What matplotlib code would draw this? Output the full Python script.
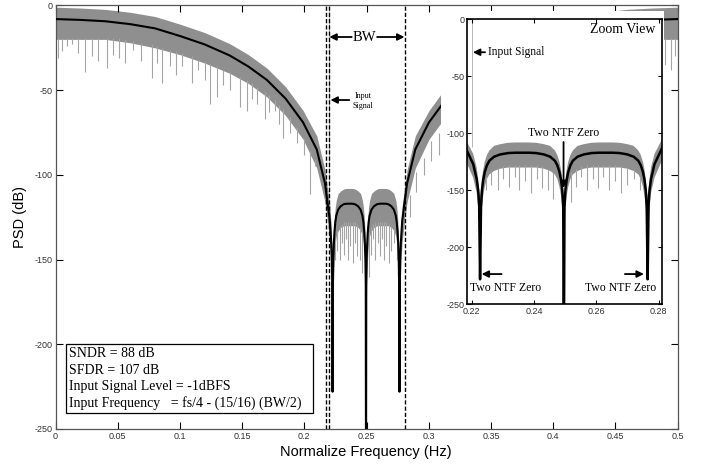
import matplotlib
matplotlib.use('Agg')
import matplotlib.pyplot as plt
from matplotlib.patches import Rectangle

# PSD: frequency, smooth NTF curve, top and bottom of the noisy band
freq = [0.0000, 0.0200, 0.0400, 0.0600, 0.0800, 0.1000, 0.1200, 0.1400, 0.1550, 0.1700,
        0.1850, 0.1990, 0.2100, 0.2166, 0.2186, 0.2205, 0.2216, 0.2221, 0.2224, 0.2227,
        0.2230, 0.2233, 0.2237, 0.2242, 0.2249, 0.2257, 0.2272, 0.2292, 0.2317, 0.2340,
        0.2362, 0.2385, 0.2407, 0.2432, 0.2452, 0.2467, 0.2475, 0.2482, 0.2487, 0.2491,
        0.2494, 0.2496,
        0.2498, 0.2501, 0.2505, 0.2510, 0.2517, 0.2525, 0.2540, 0.2560, 0.2585, 0.2607,
        0.2630, 0.2652, 0.2675, 0.2700, 0.2720, 0.2735, 0.2743, 0.2750, 0.2755, 0.2759,
        0.2762, 0.2765, 0.2768, 0.2771, 0.2776, 0.2787, 0.2806, 0.2826, 0.2892, 0.3002,
        0.3142, 0.3292, 0.3442, 0.3592, 0.3792, 0.3992, 0.4192, 0.4392, 0.4592, 0.4792,
        0.5000]
psd_avg = [-8, -8.5, -9.3, -11, -13.5, -18, -23, -29.5, -36, -44,
           -55, -69, -85, -105, -116, -127, -140, -150, -163, -228,
           -165, -150, -141, -134, -128, -124, -120.5, -118.5, -117.3, -117,
           -117, -117, -117.3, -118.5, -120.5, -124, -128, -134, -141, -150,
           -165, -300,
           -165, -150, -141, -134, -128, -124, -120.5, -118.5, -117.3, -117,
           -117, -117, -117.3, -118.5, -120.5, -124, -128, -134, -141, -150,
           -165, -228, -163, -150, -140, -127, -116, -105, -85, -69,
           -55, -44, -36, -29.5, -23, -18, -13.5, -11, -9.3, -8.5,
           -8]
psd_hi = [-1, -1.5, -2.3, -4, -6.5, -11, -16, -22.5, -29, -37,
          -48, -62, -77, -97, -108, -118, -130, -140, -150, -155,
          -150, -140, -132, -125, -119, -115, -111, -109.5, -108.3, -108,
          -108, -108, -108.3, -109.5, -111, -115, -119, -125, -132, -140,
          -150, -155,
          -150, -140, -132, -125, -119, -115, -111, -109.5, -108.3, -108,
          -108, -108, -108.3, -109.5, -111, -115, -119, -125, -132, -140,
          -150, -155, -150, -140, -130, -118, -108, -97, -77, -62,
          -48, -37, -29, -22.5, -16, -11, -6.5, -4, -2.3, -1.5,
          -1]
psd_lo = [-20, -20, -20, -22, -25, -29, -34, -40, -46, -54,
          -65, -79, -96, -116, -127, -139, -152, -165, -180, -190,
          -180, -165, -155, -147, -140, -136, -133, -131, -130, -130,
          -130, -130, -130, -131, -133, -136, -140, -147, -155, -165,
          -180, -195,
          -180, -165, -155, -147, -140, -136, -133, -131, -130, -130,
          -130, -130, -130, -131, -133, -136, -140, -147, -155, -165,
          -180, -190, -180, -165, -152, -139, -127, -116, -96, -79,
          -65, -54, -46, -40, -34, -29, -25, -22, -20, -20,
          -20]

# downward noise spikes below the band
spike_f = [0.0023, 0.0055, 0.0090, 0.0130, 0.0180, 0.0237, 0.0291, 0.0340, 0.0412, 0.0465,
           0.0510, 0.0559, 0.0625, 0.0690, 0.0773, 0.0814, 0.0854, 0.0920, 0.0970, 0.1014,
           0.1095, 0.1148, 0.1200, 0.1242, 0.1296, 0.1350, 0.1403, 0.1483, 0.1537, 0.1580,
           0.1617, 0.1684, 0.1720, 0.1765, 0.1800, 0.1831, 0.1885, 0.1939, 0.2000, 0.2046,
           0.2086,
           0.2245, 0.2262, 0.2285, 0.2300, 0.2320, 0.2338, 0.2352, 0.2370, 0.2392, 0.2410,
           0.2425, 0.2445, 0.2460, 0.2520, 0.2535, 0.2552, 0.2570, 0.2590, 0.2605, 0.2622,
           0.2640, 0.2660, 0.2680, 0.2700, 0.2720, 0.2742,
           0.2850, 0.2900, 0.2960, 0.3020, 0.3080, 0.4900, 0.4950, 0.4980]
spike_top = [-19, -19, -19, -19, -19, -19, -19, -19, -19, -19,
             -19, -20, -21, -22, -23, -24, -25, -26, -27, -28,
             -30, -32, -33, -34, -36, -38, -39, -42, -44, -46,
             -48, -51, -53, -56, -59, -61, -66, -72, -79, -86,
             -91,
             -138, -133, -130, -129, -128, -128, -128, -128, -128, -128,
             -129, -131, -134, -134, -131, -129, -128, -128, -128, -128,
             -128, -128, -129, -130, -132, -138,
             -112, -98, -90, -80, -75, -19, -19, -19]
spike_bot = [-31, -27, -24, -23, -28, -39, -30, -33, -37, -29,
             -31, -34, -26, -33, -43, -34, -46, -36, -41, -36,
             -46, -38, -44, -58, -54, -47, -50, -60, -62, -55,
             -58, -67, -63, -62, -70, -78, -75, -81, -88, -111,
             -95,
             -150, -145, -150, -140, -147, -138, -150, -142, -152, -140,
             -148, -150, -158, -160, -147, -138, -150, -140, -148, -138,
             -150, -142, -152, -145, -140, -150,
             -125, -110, -100, -92, -88, -35, -38, -30]

sig_f = 0.2201          # input tone
sig_top, sig_bot = -1, -112
bw_lines = [0.2172, 0.2199, 0.2808]

main_xticks = [0, 0.05, 0.1, 0.15, 0.2, 0.25, 0.3, 0.35, 0.4, 0.45, 0.5]
main_xlabels = ['0', '0.05', '0.1', '0.15', '0.2', '0.25', '0.3', '0.35', '0.4', '0.45', '0.5']
yticks = [-250, -200, -150, -100, -50, 0]
zoom_xticks = [0.22, 0.24, 0.26, 0.28]
zoom_xlabels = ['0.22', '0.24', '0.26', '0.28']

info_lines = ['SNDR = 88 dB', 'SFDR = 107 dB', 'Input Signal Level = -1dBFS',
              'Input Frequency   = fs/4 - (15/16) (BW/2)']

SERIF = 'Liberation Serif'
SANS = 'Liberation Sans'


def draw_psd(ax, lw):
    ax.fill_between(freq, psd_lo, psd_hi, color='#8f8f8f', lw=0, zorder=1)
    ax.vlines(spike_f, spike_bot, spike_top, color='#a4a4a4', lw=0.8, zorder=1)
    ax.vlines([sig_f], sig_bot, sig_top, color='#b4b4b4', lw=0.7, zorder=1)
    ax.plot(freq, psd_avg, color='black', lw=lw, zorder=3)


def style(ax, length):
    ax.set_ylim(-250, 0)
    ax.set_yticks(yticks)
    ax.set_yticklabels([str(v) for v in yticks])
    ax.tick_params(direction='in', top=True, right=True, length=length, width=0.8,
                   labelsize=6.5, labelcolor='#333333', pad=2)
    for lab in ax.get_xticklabels() + ax.get_yticklabels():
        lab.set_family(SANS)


arrow = dict(arrowstyle='-|>', color='black', lw=1.3, mutation_scale=10, shrinkA=0, shrinkB=0)

fig = plt.figure(figsize=(7.09, 4.66), dpi=100)

# main plot
ax = fig.add_axes([0.0783, 0.0794, 0.8773, 0.9088])
draw_psd(ax, 1.5)
for x in bw_lines:
    ax.axvline(x, color='black', lw=1.0, linestyle=(0, (3, 1.5)), zorder=4)
ax.set_xlim(0, 0.5)
ax.set_xticks(main_xticks)
ax.set_xticklabels(main_xlabels)
style(ax, 5)
for s in ax.spines.values():
    s.set_color('#555555')
    s.set_linewidth(0.9)

ax.text(0.2485, -18.6, 'BW', family=SERIF, fontsize=10.5, ha='center', va='center')
ax.annotate('', xy=(0.2201, -18.6), xytext=(0.2381, -18.6), arrowprops=arrow)
ax.annotate('', xy=(0.2805, -18.6), xytext=(0.2585, -18.6), arrowprops=arrow)
ax.text(0.2474, -56.5, 'Input\nSignal', family=SERIF, fontsize=5.8, ha='center', va='center',
        linespacing=1.3)
ax.annotate('', xy=(0.2210, -55.8), xytext=(0.2362, -55.8), arrowprops=arrow)

ax.add_patch(Rectangle((0.0084, -240.5), 0.1986, 40.7, fc='white', ec='black', lw=0.9, zorder=5))
for i, line in enumerate(info_lines):
    ax.text(0.0105, -205.5 - i * 9.7, line, family=SERIF, fontsize=10, ha='left', va='center',
            zorder=6)

# white backing of the zoom view (covers its tick label area too)
ax.add_patch(Rectangle((441 / 709, 1 - 318 / 466), (664 - 441) / 709, (318 - 11) / 466,
                       transform=fig.transFigure, fc='white', ec='none', zorder=7))

fig.text(20 / 709, 0.5338, 'PSD (dB)', family=SANS, fontsize=10.5, rotation=90,
         ha='center', va='center')
fig.text(366 / 709, 1 - 452 / 466, 'Normalize Frequency (Hz)', family=SANS, fontsize=10.5,
         ha='center', va='center')

# zoom view
axz = fig.add_axes([0.6591, 0.3468, 0.2750, 0.6118], facecolor='white', zorder=10)
draw_psd(axz, 1.8)
axz.set_xlim(0.2186, 0.2812)
axz.set_xticks(zoom_xticks)
axz.set_xticklabels(zoom_xlabels)
style(axz, 3)
for s in axz.spines.values():
    s.set_color('black')
    s.set_linewidth(1.2)

axz.text(0.2791, -8.8, 'Zoom View', family=SERIF, fontsize=10, ha='right', va='center')
axz.annotate('', xy=(0.2204, -28.9), xytext=(0.2243, -28.9), arrowprops=arrow)
axz.text(0.2252, -28.9, 'Input Signal', family=SERIF, fontsize=8.3, ha='left', va='center')
axz.text(0.2495, -100, 'Two NTF Zero', family=SERIF, fontsize=8.5, ha='center', va='center')
axz.annotate('', xy=(0.2495, -148), xytext=(0.2495, -107.6), arrowprops=arrow)
axz.text(0.2310, -235.7, 'Two NTF Zero', family=SERIF, fontsize=8.5, ha='center', va='center')
axz.annotate('', xy=(0.2232, -223.4), xytext=(0.2296, -223.4), arrowprops=arrow)
axz.text(0.2679, -235.7, 'Two NTF Zero', family=SERIF, fontsize=8.5, ha='center', va='center')
axz.annotate('', xy=(0.2753, -223.4), xytext=(0.2692, -223.4), arrowprops=arrow)

fig.savefig('out.png', dpi=100)
